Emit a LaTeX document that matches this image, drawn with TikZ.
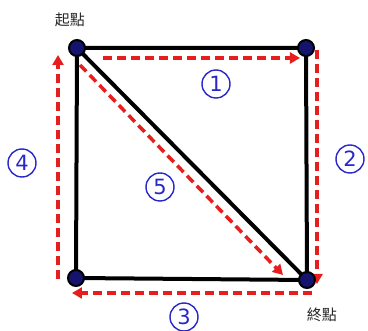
\documentclass[tikz,border=0pt]{standalone}
\usepackage{fontspec}
\newfontfamily\cjk{Noto Sans CJK TC}
\setsansfont{DejaVu Sans}
\usetikzlibrary{arrows.meta}
\definecolor{navy}{RGB}{20,20,110}
\definecolor{numblue}{RGB}{40,40,200}
\definecolor{dashred}{RGB}{230,30,30}
\tikzset{
  vert/.style={circle,fill=navy,draw=black,line width=2pt,minimum size=16pt,inner sep=0pt},
  edge/.style={line width=4pt,black},
  route/.style={dashred,line width=3.5pt,dash pattern=on 9pt off 5pt,-{Triangle[length=10pt,width=11pt]}},
  num/.style={circle,draw=numblue,line width=1.4pt,text=numblue,minimum size=28pt,inner sep=0pt,font=\sffamily\fontsize{21}{21}\selectfont},
  lbl/.style={font=\cjk\fontsize{15}{15}\selectfont,text=black!85}
}
\begin{document}
\begin{tikzpicture}[x=1pt,y=-1pt]
\useasboundingbox (0,0) rectangle (368,331);
\coordinate (tl) at (77,48);
\coordinate (tr) at (306,48);
\coordinate (bl) at (76,278);
\coordinate (br) at (307,280);
\draw[edge] (tl) -- (tr) -- (br) -- (bl) -- cycle;
\draw[edge] (tl) -- (br);
% routes
\coordinate (r1s) at (103,58); \coordinate (r1e) at (300,58);
\draw[route] (r1s) -- (r1e);
\coordinate (r2s) at (317,50); \coordinate (r2e) at (317,284);
\draw[route] (r2s) -- (r2e);
\coordinate (r3s) at (312,293); \coordinate (r3e) at (72,293);
\draw[route] (r3s) -- (r3e);
\coordinate (r4s) at (58,279); \coordinate (r4e) at (58,55);
\draw[route] (r4s) -- (r4e);
\coordinate (r5s) at (80,65); \coordinate (r5e) at (283,275);
\draw[route] (r5s) -- (r5e);
\node[vert] (A) at (tl) {};
\node[vert] (B) at (tr) {};
\node[vert] (C) at (bl) {};
\node[vert] (D) at (br) {};
\node[num] (n1) at (216,84) {1};
\node[num] (n2) at (350,159) {2};
\node[num] (n3) at (184,317) {3};
\node[num] (n4) at (22,163) {4};
\node[num] (n5) at (160,187) {5};
\node[lbl] (start) at (70,20) {起點};
\node[lbl] (end) at (322,315) {終點};
\end{tikzpicture}
\end{document}
